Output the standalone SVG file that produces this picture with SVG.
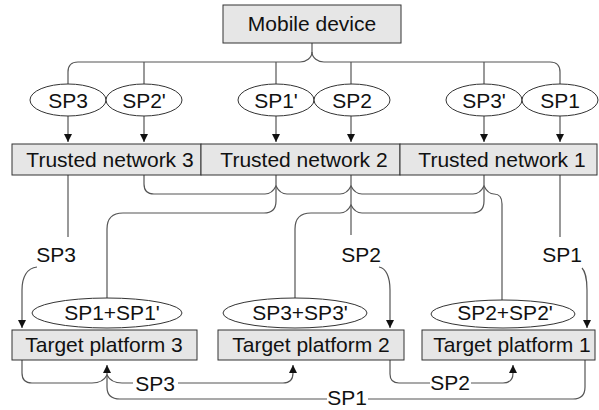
<svg xmlns="http://www.w3.org/2000/svg" width="599" height="410" viewBox="0 0 599 410">
<style>
.box{fill:#e6e6e6;stroke:#333;stroke-width:1}
.ell{fill:#fff;stroke:#333;stroke-width:1}
.t{font-family:"Liberation Sans",Arial,sans-serif;font-size:21px;fill:#111;text-anchor:middle}
.c{fill:none;stroke:#555;stroke-width:1.2}
.a{fill:none;stroke:#555;stroke-width:1.2;marker-end:url(#ah)}
</style>
<defs>
<marker id="ah" viewBox="0 0 10 10" refX="10" refY="5" markerWidth="8" markerHeight="8" markerUnits="userSpaceOnUse" orient="auto">
<path d="M0,0 L10,5 L0,10 Z" fill="#111"/>
</marker>
</defs>
<rect width="599" height="410" fill="#fff"/>
<g id="connectors">
<path class="c" d="M312,43 V52 C312,58 306,62 300,62 H78 Q68,62 68,72 V84"/>
<path class="c" d="M312,52 C312,58 318,62 324,62 H550 Q560,62 560,72 V84"/>
<path class="c" d="M144,62 V84"/>
<path class="c" d="M276,62 V84"/>
<path class="c" d="M351,62 V84"/>
<path class="c" d="M484,62 V84"/>
<path class="a" d="M68,116 V142"/>
<path class="a" d="M144,116 V142"/>
<path class="a" d="M276,116 V142"/>
<path class="a" d="M351,116 V142"/>
<path class="a" d="M484,116 V142"/>
<path class="a" d="M560,116 V142"/>
<path class="c" d="M68,175 V237"/>
<path class="a" d="M37,267 C27,268 22,277 22,290 V328"/>
<path class="c" d="M351,175 V235"/>
<path class="a" d="M379,267 C386,268 390,277 390,290 V328"/>
<path class="c" d="M560,175 V237"/>
<path class="a" d="M582,268 C584,270 587,277 587,290 V328"/>
<path class="c" d="M144,175 V184 Q144,194 154,194 H265 C270,194 274,190 276,186 C278,190 282,194 287,194 H340 C345,194 349,190 351,186 C353,190 357,194 362,194 H473 C478,194 482,190 484,186 C486,190 489,194 494,194 Q502,194 502,204 V300"/>
<path class="c" d="M484,175 V201 Q484,213 472,213 H362 C357,213 353,209 351,205 C349,209 345,213 340,213 H311 Q295,213 295,229 V299"/>
<path class="c" d="M276,175 V201 Q276,213 264,213 H123 Q107,213 107,229 V298"/>
<path class="c" d="M22,360 V373 Q22,383 32,383 H92 C100,383 105,379 107,375 C109,379 114,383 122,383 H133"/>
<path class="a" d="M178,383 H283 Q293,383 293,373 V365"/>
<path class="c" d="M390,360 V374 Q390,383 399,383 H430"/>
<path class="a" d="M471,383 H503 Q513,383 513,373 V365"/>
<path class="c" d="M585,360 V387 Q585,399 573,399 H368"/>
<path class="a" d="M327,399 H120 Q107,399 107,387 V365"/>
</g>
<g id="mobile"><rect class="box" x="223" y="5" width="178" height="38"/><text class="t" x="312" y="31">Mobile device</text></g>
<g id="e_sp3"><ellipse class="ell" cx="68" cy="100" rx="38" ry="16"/><text class="t" x="68" y="108">SP3</text></g>
<g id="e_sp2p"><ellipse class="ell" cx="144" cy="100" rx="38" ry="16"/><text class="t" x="144" y="108">SP2'</text></g>
<g id="e_sp1p"><ellipse class="ell" cx="276" cy="100" rx="38" ry="16"/><text class="t" x="276" y="108">SP1'</text></g>
<g id="e_sp2"><ellipse class="ell" cx="352" cy="100" rx="38" ry="16"/><text class="t" x="352" y="108">SP2</text></g>
<g id="e_sp3p"><ellipse class="ell" cx="484" cy="100" rx="38" ry="16"/><text class="t" x="484" y="108">SP3'</text></g>
<g id="e_sp1"><ellipse class="ell" cx="560" cy="100" rx="38" ry="16"/><text class="t" x="560" y="108">SP1</text></g>
<g id="tn3"><rect class="box" x="12" y="144" width="189" height="31"/><text class="t" x="110" y="167">Trusted network 3</text></g>
<g id="tn2"><rect class="box" x="201" y="144" width="199" height="31"/><text class="t" x="304" y="167">Trusted network 2</text></g>
<g id="tn1"><rect class="box" x="400" y="144" width="197" height="31"/><text class="t" x="502" y="167">Trusted network 1</text></g>
<g id="l_sp3"><text class="t" x="56" y="262">SP3</text></g>
<g id="l_sp2"><text class="t" x="361" y="262">SP2</text></g>
<g id="l_sp1"><text class="t" x="562" y="262">SP1</text></g>
<g id="e_sp1sp1p"><ellipse class="ell" cx="107" cy="313" rx="75" ry="15"/><text class="t" x="112" y="320">SP1+SP1'</text></g>
<g id="e_sp3sp3p"><ellipse class="ell" cx="295" cy="313" rx="72" ry="15"/><text class="t" x="300" y="320">SP3+SP3'</text></g>
<g id="e_sp2sp2p"><ellipse class="ell" cx="503" cy="314" rx="72" ry="14"/><text class="t" x="505" y="320">SP2+SP2'</text></g>
<g id="tp3"><rect class="box" x="12" y="330" width="185" height="30"/><text class="t" x="104" y="352">Target platform 3</text></g>
<g id="tp2"><rect class="box" x="218" y="330" width="186" height="30"/><text class="t" x="311" y="352">Target platform 2</text></g>
<g id="tp1"><rect class="box" x="422" y="330" width="173" height="30"/><text class="t" x="512" y="352">Target platform 1</text></g>
<g id="b_sp3"><text class="t" x="155" y="391">SP3</text></g>
<g id="b_sp2"><text class="t" x="450" y="390">SP2</text></g>
<g id="b_sp1"><text class="t" x="347" y="405">SP1</text></g>
</svg>
